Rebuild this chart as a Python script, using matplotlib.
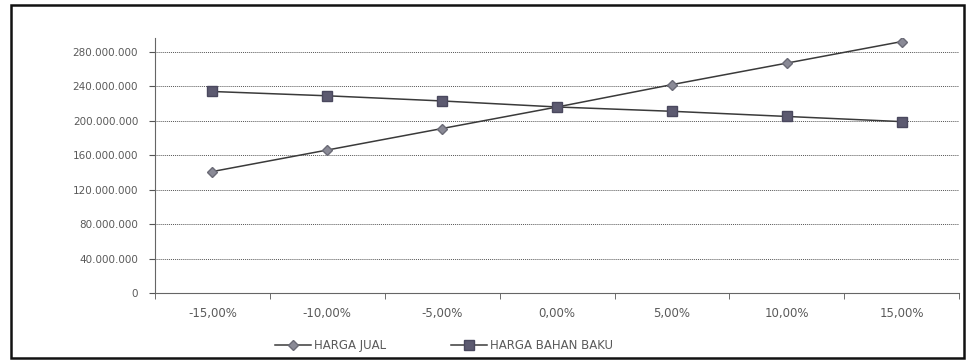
#!/usr/bin/env python3
"""Sensitivity chart: HARGA JUAL vs HARGA BAHAN BAKU."""

import matplotlib
matplotlib.use("Agg")
import matplotlib.pyplot as plt
from matplotlib.patches import Rectangle
from matplotlib.ticker import FuncFormatter, MultipleLocator

# ---------------------------------------------------------------------------
# Data
# ---------------------------------------------------------------------------
categories = ["-15,00%", "-10,00%", "-5,00%", "0,00%", "5,00%", "10,00%", "15,00%"]
harga_jual = [141e6, 166e6, 191e6, 216e6, 242e6, 267e6, 292e6]
harga_bahan_baku = [234e6, 229e6, 223e6, 216e6, 211e6, 205e6, 199e6]

TEXT_COLOR = "#5a5a5a"
FONT = "DejaVu Sans"


def thousands(v, _pos):
    if v == 0:
        return "0"
    return f"{int(v):,}".replace(",", ".")


fig = plt.figure(figsize=(9.68, 3.63), dpi=100)
ax = fig.add_axes([0.160, 0.193, 0.831, 0.702])

x = range(len(categories))
ax.plot(x, harga_jual, color="#3a3a3a", lw=1.1, marker="D", ms=5,
        mfc="#8a8a96", mec="#6a6a76", label="HARGA JUAL", zorder=3)
ax.plot(x, harga_bahan_baku, color="#3a3a3a", lw=1.1, marker="s", ms=6.5,
        mfc="#5c5a70", mec="#4a485e", label="HARGA BAHAN BAKU", zorder=3)

ax.set_xlim(-0.5, len(categories) - 0.5)
ax.set_ylim(0, 296e6)
ax.yaxis.set_major_locator(MultipleLocator(40e6))
ax.yaxis.set_major_formatter(FuncFormatter(thousands))
ax.grid(axis="y", color="#555555", lw=0.7, ls=(0, (1, 1)))
ax.set_axisbelow(True)

ax.set_xticks(list(x))
ax.set_xticklabels(categories)
ax.set_xticks([i - 0.5 for i in range(len(categories) + 1)], minor=True)
ax.tick_params(axis="x", which="major", length=0, pad=10)
ax.tick_params(axis="x", which="minor", length=4, color="#555555", direction="out")
ax.tick_params(axis="y", length=4, color="#555555", pad=8)

for lbl in ax.get_xticklabels():
    lbl.set_fontfamily(FONT)
    lbl.set_fontsize(8.5)
    lbl.set_color(TEXT_COLOR)
for lbl in ax.get_yticklabels():
    lbl.set_fontfamily(FONT)
    lbl.set_fontsize(7.5)
    lbl.set_color(TEXT_COLOR)

for side in ("top", "right"):
    ax.spines[side].set_visible(False)
ax.spines["left"].set_color("#666666")
ax.spines["left"].set_linewidth(0.8)
ax.spines["bottom"].set_color("#666666")
ax.spines["bottom"].set_linewidth(0.8)

leg = ax.legend(loc="upper center", bbox_to_anchor=(0.36, -0.14), ncol=2,
                frameon=False, handlelength=3, handletextpad=0.3,
                columnspacing=5.5, prop={"family": FONT, "size": 8.5})
for t in leg.get_texts():
    t.set_color(TEXT_COLOR)

# outer border
fig.patches.append(Rectangle((0.011, 0.014), 0.985, 0.972, transform=fig.transFigure,
                             fill=False, edgecolor="#111111", lw=1.8))

fig.savefig("out.png", dpi=100)
